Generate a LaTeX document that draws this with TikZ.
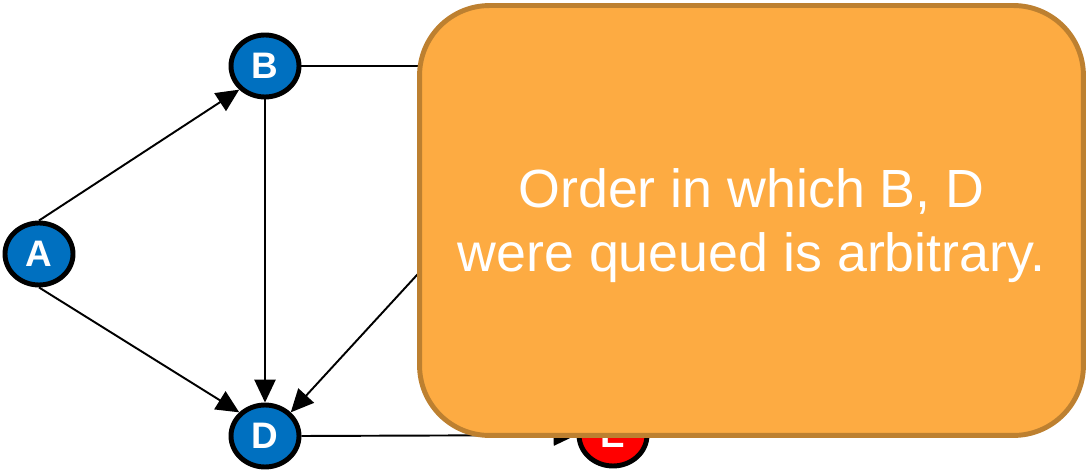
\documentclass[tikz,border=0pt]{standalone}
\usepackage{fontspec}
\setmainfont{Liberation Sans}
\usetikzlibrary{arrows.meta, positioning, shapes.geometric}
\definecolor{nodeblue}{RGB}{0,112,192}
\definecolor{notefill}{RGB}{253,171,66}
\definecolor{noteedge}{RGB}{189,128,48}

\begin{document}
\begin{tikzpicture}[x=0.02cm, y=-0.02cm,
    vertex/.style={ellipse, draw=black, line width=2.8pt, fill=nodeblue, text=white,
        font=\fontsize{21}{21}\selectfont\bfseries,
        minimum width=1.36cm, minimum height=1.24cm, inner sep=0pt},
    edge/.style={-{Triangle[length=13pt, width=12pt]}, line width=1.1pt},
    notebox/.style={rectangle, draw=noteedge, fill=notefill, line width=2.8pt,
        rounded corners=1.4cm, minimum width=13.28cm, minimum height=8.6cm},
    notetext/.style={text=white, align=center, font=\fontsize{30.6}{36.5}\selectfont}]
    \useasboundingbox (0,0) rectangle (1088,472);

    % Vertices
    \node[vertex] (A) at (39,254) {A};
    \node[vertex] (B) at (265,66) {B};
    \node[vertex] (D) at (265,436) {D};
    \node[vertex, fill=red] (E) at (613,435) {E};
    \node[vertex, draw=none, fill=none] (C) at (613,66) {};

    % Edges
    \draw[edge] (A.north) -- (B.south west);
    \draw[edge] (A.south) -- (D.north west);
    \draw[edge] (B.south) -- (D.north);
    \draw[edge] (B.east) -- (C.west);
    \draw[edge] (C.south west) -- (D.north east);
    \draw[edge] (D.east) -- (E.west);

    % Note on top
    \node[notebox] (note) at (751.5,220.5) {};
    \node[notetext] (remark) at ([yshift=-0.11cm]note.center) {Order in which B, D\\were queued is arbitrary.};
\end{tikzpicture}
\end{document}
